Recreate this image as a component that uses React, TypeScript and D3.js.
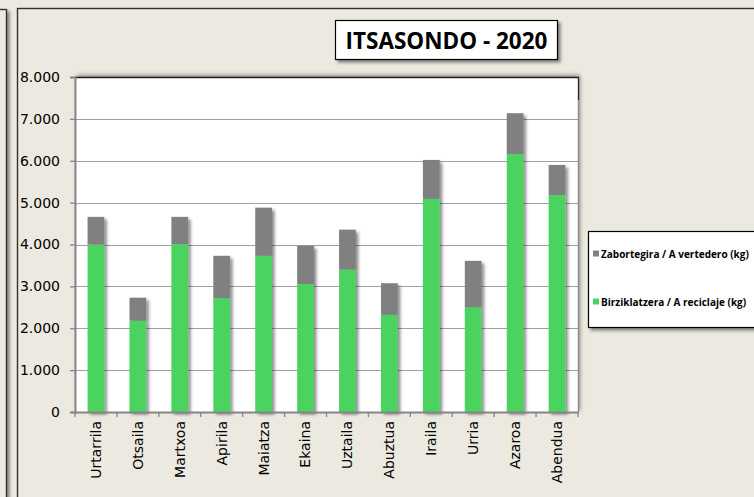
import { useEffect, useRef } from "react";
import * as d3 from "d3";

// Hilabeteak eta balioak (kg)
const months = [
  "Urtarrila",
  "Otsaila",
  "Martxoa",
  "Apirila",
  "Maiatza",
  "Ekaina",
  "Uztaila",
  "Abuztua",
  "Iraila",
  "Urria",
  "Azaroa",
  "Abendua",
];
const reciclaje = [4000, 2180, 4010, 2720, 3730, 3055, 3400, 2320, 5090, 2500, 6160, 5180];
const vertedero = [660, 550, 650, 1010, 1150, 915, 955, 755, 930, 1110, 975, 720];
const yTicks = [0, 1000, 2000, 3000, 4000, 5000, 6000, 7000, 8000];
const seriesNames = ["Zabortegira / A vertedero (kg)", "Birziklatzera / A reciclaje (kg)"];
const seriesColors = ["#808080", "#4cd360"];
const title = "ITSASONDO - 2020";

const W = 754;
const H = 497;
const BG = "#ece9e0";

function App() {
  const ref = useRef<SVGSVGElement | null>(null);

  useEffect(() => {
    const svg = d3.select(ref.current);
    svg.selectAll("*").remove();

    const defs = svg.append("defs");
    const f = defs
      .append("filter")
      .attr("id", "sh")
      .attr("filterUnits", "userSpaceOnUse")
      .attr("x", -20)
      .attr("y", -20)
      .attr("width", W + 40)
      .attr("height", H + 40);
    f.append("feDropShadow")
      .attr("dx", 2.5)
      .attr("dy", 2.5)
      .attr("stdDeviation", 1.5)
      .attr("flood-color", "#000")
      .attr("flood-opacity", 0.45);
    const f2 = defs
      .append("filter")
      .attr("id", "sh2")
      .attr("filterUnits", "userSpaceOnUse")
      .attr("x", -20)
      .attr("y", -20)
      .attr("width", W + 40)
      .attr("height", H + 40);
    f2.append("feDropShadow")
      .attr("dx", 2)
      .attr("dy", -2)
      .attr("stdDeviation", 2)
      .attr("flood-color", "#000")
      .attr("flood-opacity", 0.4);

    svg.append("rect").attr("width", W).attr("height", H).attr("fill", BG);

    // ezkerreko panelaren ertza
    svg
      .append("rect")
      .attr("x", -20)
      .attr("y", 9.5)
      .attr("width", 26.5)
      .attr("height", H + 20)
      .attr("fill", BG)
      .attr("stroke", "#333")
      .attr("stroke-width", 1.4)
      .attr("filter", "url(#sh)");

    // grafikoaren panela
    svg
      .append("rect")
      .attr("x", 17.5)
      .attr("y", 8.5)
      .attr("width", W + 20)
      .attr("height", H + 20)
      .attr("fill", BG)
      .attr("stroke", "#333")
      .attr("stroke-width", 1.4)
      .attr("filter", "url(#sh)");

    const left = 75;
    const right = 578;
    const top = 77;
    const bottom = 412;

    const x = d3.scaleBand<string>().domain(months).range([left, right]);
    const y = d3.scaleLinear().domain([0, 8000]).range([bottom, top]);

    // plot area
    svg
      .append("rect")
      .attr("x", left)
      .attr("y", top)
      .attr("width", right - left)
      .attr("height", bottom - top)
      .attr("fill", "#fff")
      .attr("filter", "url(#sh2)");

    svg
      .append("g")
      .selectAll("line")
      .data(yTicks.slice(1, -1))
      .enter()
      .append("line")
      .attr("x1", left)
      .attr("x2", right)
      .attr("y1", (d) => Math.round(y(d)) + 0.5)
      .attr("y2", (d) => Math.round(y(d)) + 0.5)
      .attr("stroke", "#a0a0a0")
      .attr("stroke-width", 1.2);

    // barrak
    const stack = d3.stack<number>().keys(["r", "v"]).value((i, k) =>
      k === "r" ? reciclaje[i] : vertedero[i]
    );
    const layers = stack(months.map((_, i) => i));
    const bw = x.bandwidth() * 0.4;
    const colorFor = [seriesColors[1], seriesColors[0]];

    const barsG = svg.append("g").attr("filter", "url(#sh)");
    layers.forEach((layer, li) => {
      barsG
        .append("g")
        .selectAll("rect")
        .data(layer)
        .enter()
        .append("rect")
        .attr("x", (d) => (x(months[d.data]) as number) + (x.bandwidth() - bw) / 2)
        .attr("width", bw)
        .attr("y", (d) => y(d[1]))
        .attr("height", (d) => y(d[0]) - y(d[1]))
        .attr("fill", colorFor[li]);
    });

    // plot area ertzak
    svg
      .append("line")
      .attr("x1", left)
      .attr("x2", right + 1)
      .attr("y1", top + 0.5)
      .attr("y2", top + 0.5)
      .attr("stroke", "#222")
      .attr("stroke-width", 1.3);
    svg
      .append("line")
      .attr("x1", right + 0.5)
      .attr("x2", right + 0.5)
      .attr("y1", top)
      .attr("y2", 100)
      .attr("stroke", "#222")
      .attr("stroke-width", 1.3);
    svg
      .append("line")
      .attr("x1", right + 0.5)
      .attr("x2", right + 0.5)
      .attr("y1", 100)
      .attr("y2", bottom)
      .attr("stroke", "#8c8c8c")
      .attr("stroke-width", 1.5);

    // Y ardatza
    const yAxis = svg
      .append("g")
      .attr("transform", `translate(${left},0)`)
      .call(
        d3
          .axisLeft(y)
          .tickValues(yTicks)
          .tickSize(5)
          .tickPadding(10)
          .tickFormat((d) => d3.format(",")(d as number).replace(/,/g, "."))
      );
    yAxis.select(".domain").attr("stroke", "#868686").attr("stroke-width", 2);
    yAxis.selectAll(".tick line").attr("stroke", "#868686").attr("stroke-width", 1.3);
    yAxis
      .selectAll(".tick text")
      .attr("fill", "#000")
      .attr("font-family", "DejaVu Sans, Verdana, sans-serif")
      .attr("font-size", 14);

    // X ardatza
    const xAxis = svg
      .append("g")
      .attr("transform", `translate(0,${bottom})`)
      .call(d3.axisBottom(x).tickSize(0).tickPadding(0));
    xAxis.select(".domain").attr("stroke", "#868686").attr("stroke-width", 2);
    xAxis
      .selectAll(".tick text")
      .attr("fill", "#000")
      .attr("font-family", "DejaVu Sans, Verdana, sans-serif")
      .attr("font-size", 14)
      .attr("text-anchor", "end")
      .attr("dy", "0.35em")
      .attr("transform", "translate(0,9) rotate(-90)")
      .attr("x", 0)
      .attr("y", 0);
    const edges = months.map((m) => x(m) as number).concat([right]);
    xAxis
      .selectAll("line.edge")
      .data(edges)
      .enter()
      .append("line")
      .attr("class", "edge")
      .attr("x1", (d) => d)
      .attr("x2", (d) => d)
      .attr("y1", 0)
      .attr("y2", 5)
      .attr("stroke", "#868686")
      .attr("stroke-width", 1.3);

    // izenburua
    svg
      .append("rect")
      .attr("x", 335.5)
      .attr("y", 20.5)
      .attr("width", 222)
      .attr("height", 39)
      .attr("fill", "#fff")
      .attr("stroke", "#000")
      .attr("stroke-width", 1.2)
      .attr("filter", "url(#sh)");
    svg
      .append("text")
      .attr("x", 446.5)
      .attr("y", 48.5)
      .attr("text-anchor", "middle")
      .attr("font-family", "Open Sans, sans-serif")
      .attr("font-weight", "bold")
      .attr("font-size", 22.5)
      .text(title);

    // legenda
    svg
      .append("rect")
      .attr("x", 588.5)
      .attr("y", 231.5)
      .attr("width", 200)
      .attr("height", 96)
      .attr("fill", "#fff")
      .attr("stroke", "#000")
      .attr("stroke-width", 1.2)
      .attr("filter", "url(#sh)");
    const lg = svg
      .append("g")
      .selectAll("g")
      .data(seriesNames)
      .enter()
      .append("g")
      .attr("transform", (_, i) => `translate(593,${254 + i * 48})`);
    lg.append("rect")
      .attr("x", 0)
      .attr("y", -3.5)
      .attr("width", 6)
      .attr("height", 6)
      .attr("fill", (_, i) => seriesColors[i]);
    lg.append("text")
      .attr("x", 8)
      .attr("y", 0)
      .attr("dy", "0.35em")
      .attr("font-family", "Open Sans, sans-serif")
      .attr("font-weight", "bold")
      .attr("font-size", 10)
      .text((d) => d);
  }, []);

  return (
    <div style={{ position: "absolute", left: 0, top: 0 }}>
      <svg ref={ref} width={W} height={H} style={{ display: "block" }} />
    </div>
  );
}

export default App;
